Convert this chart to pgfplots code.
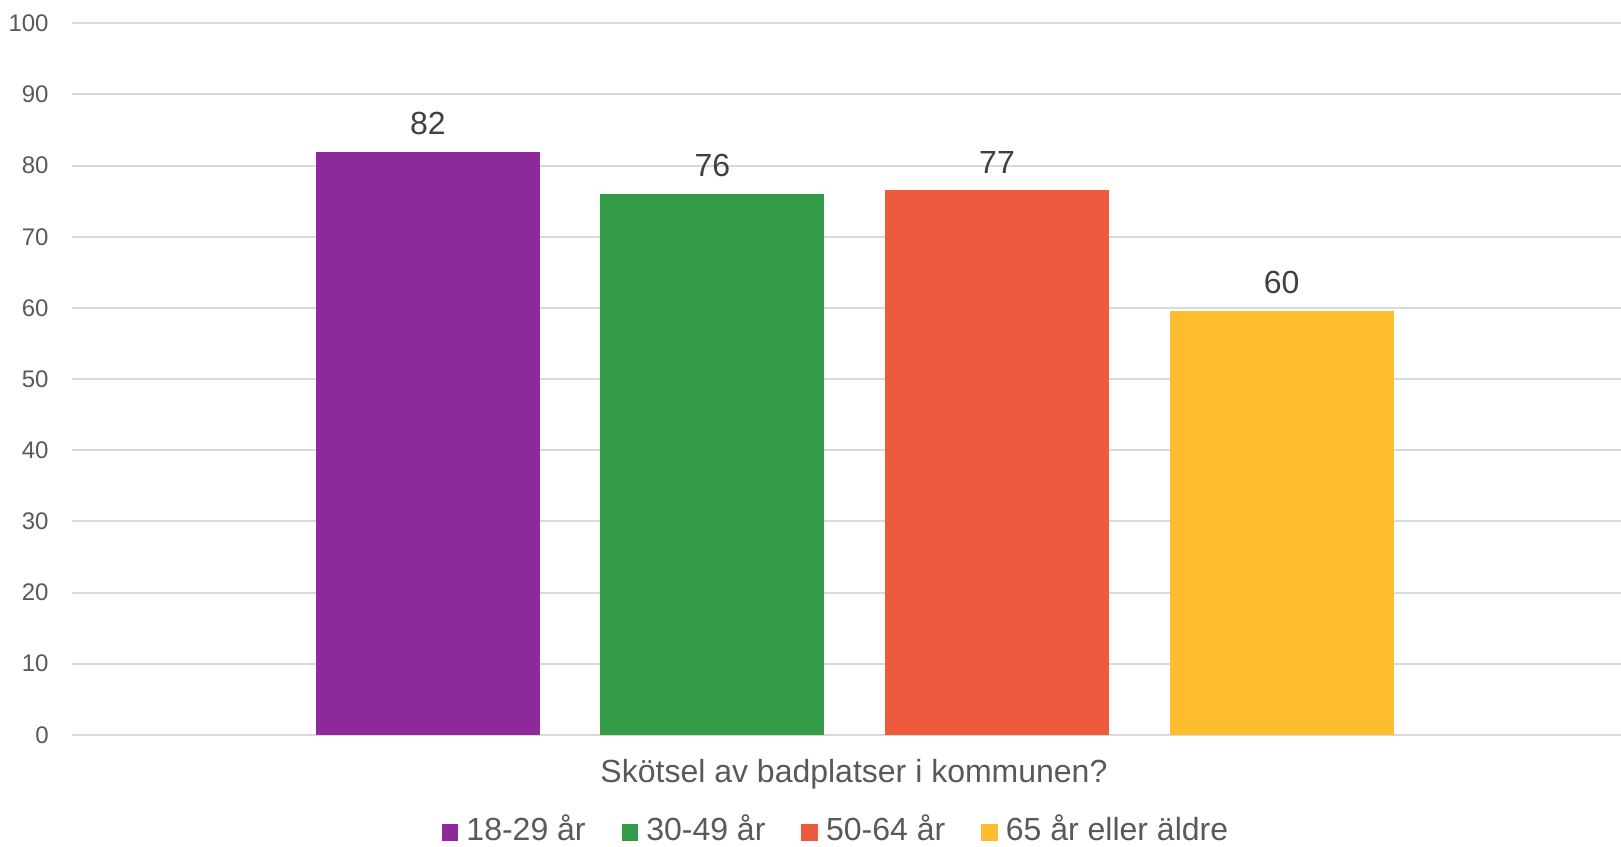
\documentclass[border=0pt]{standalone}
\usepackage{pgfplots}
\pgfplotsset{compat=1.18}
\usepackage{fontspec}
\setmainfont{Liberation Sans}
\definecolor{cP}{HTML}{8E299B}
\definecolor{cG}{HTML}{339A48}
\definecolor{cR}{HTML}{EE5A3D}
\definecolor{cY}{HTML}{FDBD2F}
\definecolor{gridgray}{HTML}{D9D9D9}
\definecolor{tickgray}{HTML}{595959}
\definecolor{labelgray}{HTML}{404040}
\begin{document}
\begin{tikzpicture}
\useasboundingbox (-36pt,-55.6pt) rectangle (774.5pt,367.4pt);
\begin{axis}[
  at={(0,0)}, anchor=south west,
  scale only axis, width=774.5pt, height=355.75pt,
  xmin=-0.251, xmax=5.193, ymin=0, ymax=100,
  ytick={0,10,...,100},
  xtick=\empty,
  ymajorgrids,
  major grid style={color=gridgray, line width=1pt},
  axis line style={draw=none},
  tick style={draw=none},
  /pgf/number format/assume math mode=true,
  yticklabel style={font=\fontsize{12}{13}\selectfont, text=tickgray, anchor=east, inner sep=0pt, xshift=-11.5pt},
  ybar, bar width=112pt, bar shift=0pt,
  nodes near coords={\pgfmathprintnumber[fixed,precision=0]{\pgfplotspointmeta}},
  every node near coord/.append style={font=\fontsize{16}{18}\selectfont, text=labelgray, anchor=south, inner sep=0pt, yshift=8.5pt},
  clip=false,
  legend style={at={(axis description cs:0.4926,-0.1535)}, anchor=south, draw=none, fill=none,
    font=\fontsize{16}{18}\selectfont, text=tickgray, inner sep=0pt,
    nodes={inner sep=0pt, anchor=base west},
    /tikz/every even column/.append style={column sep=18pt},
    /tikz/every odd column/.append style={column sep=4pt}},
  legend columns=4,
  legend image code/.code={\fill[#1] (0pt,0pt) rectangle (8.3pt,8.3pt);},
]
\addplot[fill=cP, draw=none] coordinates {(1,81.95)};
\addlegendentry{18-29 år}
\addplot[fill=cG, draw=none] coordinates {(2,76.0)};
\addlegendentry{30-49 år}
\addplot[fill=cR, draw=none] coordinates {(3,76.5)};
\addlegendentry{50-64 år}
\addplot[fill=cY, draw=none] coordinates {(4,59.6)};
\addlegendentry{65 år eller äldre}
\node[anchor=base, font=\fontsize{16}{18}\selectfont, text=tickgray, inner sep=0pt] at (axis description cs:0.5048,-0.0677) {Skötsel av badplatser i kommunen?};
\end{axis}
\end{tikzpicture}
\end{document}
